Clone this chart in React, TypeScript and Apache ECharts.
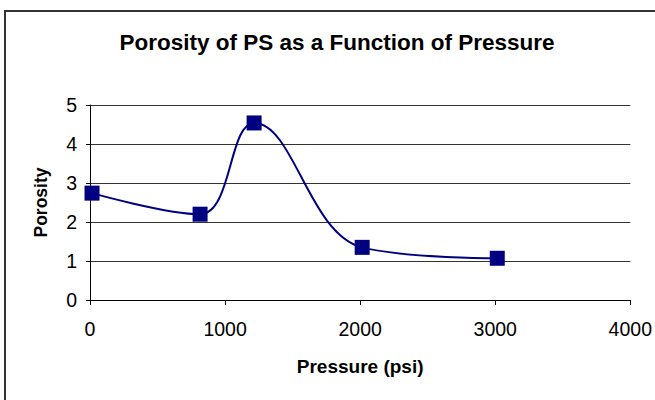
import React, { useEffect, useRef } from "react";
import * as echarts from "echarts";

const pressure = [15, 815, 1215, 2015, 3015];
const porosity = [2.74, 2.2, 4.54, 1.35, 1.07];
const xTicks = [0, 1000, 2000, 3000, 4000];
const yTicks = [0, 1, 2, 3, 4, 5];
const titleText = "Porosity of PS as a Function of Pressure";
const xName = "Pressure (psi)";
const yName = "Porosity";

export default function App() {
  const ref = useRef<HTMLDivElement>(null);
  useEffect(() => {
    if (!ref.current) return;
    const chart = echarts.init(ref.current, null, { renderer: "svg" });
    const font = "'Liberation Sans', Arial, sans-serif";
    chart.setOption({
      animation: false,
      backgroundColor: "#ffffff",
      textStyle: { fontFamily: font },
      title: {
        text: titleText,
        left: 332,
        top: 26,
        textAlign: "center",
        textStyle: { fontFamily: font, fontSize: 22.5, fontWeight: "bold", color: "#000" },
      },
      graphic: [
        {
          type: "rect",
          shape: { x: 5, y: 11, width: 700, height: 500 },
          style: { fill: "none", stroke: "#333", lineWidth: 2 },
          silent: true,
        },
      ],
      grid: { left: 90, right: 23, top: 105, bottom: 100, containLabel: false },
      xAxis: {
        type: "value",
        min: xTicks[0],
        max: xTicks[xTicks.length - 1],
        interval: 1000,
        name: xName,
        nameLocation: "middle",
        nameGap: 57,
        nameTextStyle: { fontFamily: font, fontSize: 19, fontWeight: "bold", color: "#000" },
        axisLine: { show: true, lineStyle: { color: "#000", width: 1 } },
        axisTick: { show: true, inside: false, length: 5, lineStyle: { color: "#000" } },
        axisLabel: {
          margin: 19,
          fontSize: 19.5,
          color: "#000",
          fontFamily: font,
          formatter: (v: number) => String(v),
        },
        splitLine: { show: false },
      },
      yAxis: {
        type: "value",
        min: yTicks[0],
        max: yTicks[yTicks.length - 1],
        interval: 1,
        name: yName,
        nameLocation: "middle",
        nameGap: 40,
        nameRotate: 90,
        nameTextStyle: { fontFamily: font, fontSize: 17.5, fontWeight: "bold", color: "#000" },
        axisLine: { show: true, lineStyle: { color: "#000", width: 1 } },
        axisTick: { show: true, inside: false, length: 4, lineStyle: { color: "#000" } },
        axisLabel: {
          margin: 13,
          fontSize: 19.5,
          color: "#000",
          fontFamily: font,
          formatter: (v: number) => String(v),
        },
        splitLine: { show: true, lineStyle: { color: "#333", width: 1 } },
      },
      series: [
        {
          type: "line",
          data: pressure.map((p, i) => [p, porosity[i]]),
          smooth: 0.4,
          symbol: "rect",
          symbolSize: 15,
          itemStyle: { color: "#000080" },
          lineStyle: { color: "#000080", width: 2 },
        },
      ],
    });
    return () => chart.dispose();
  }, []);
  return (
    <div
      ref={ref}
      style={{ position: "fixed", left: 0, top: 0, width: 655, height: 400 }}
    />
  );
}
